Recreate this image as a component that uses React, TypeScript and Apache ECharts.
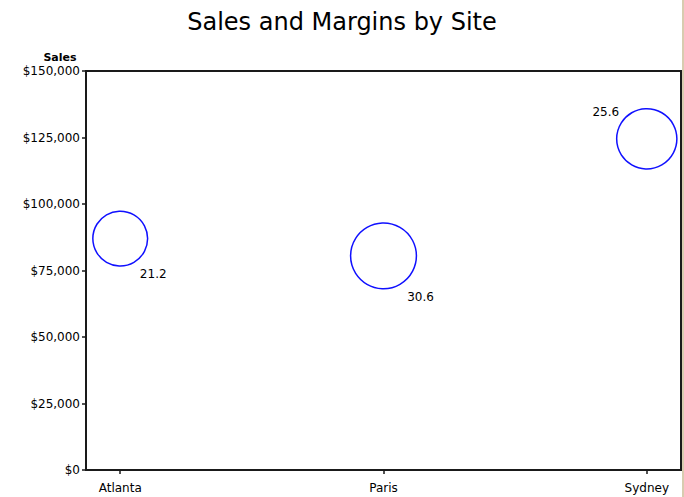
import React, { useEffect, useRef } from "react";
import * as echarts from "echarts";

const sites = ["Atlanta", "Paris", "Sydney"];
const sales = [87000, 80500, 124500];
const margins = [21.2, 30.6, 25.6];
const yTicks = [0, 25000, 50000, 75000, 100000, 125000, 150000];

const labelOffsets: number[][] = [
  [33, 35],
  [37, 41],
  [-41, -27],
];

export default function App() {
  const ref = useRef<HTMLDivElement>(null);
  useEffect(() => {
    if (!ref.current) return;
    const chart = echarts.init(ref.current, null, { renderer: "svg" });
    const font = "DejaVu Sans, Verdana, sans-serif";
    chart.setOption({
      animation: false,
      backgroundColor: "#ffffff",
      title: {
        text: "Sales and Margins by Site",
        left: "center",
        top: 5,
        textStyle: {
          fontFamily: font,
          fontSize: 24,
          fontWeight: "normal",
          color: "#000",
        },
      },
      grid: {
        left: 86,
        right: 3,
        top: 71,
        bottom: 27,
        show: true,
        borderColor: "#1a1a1a",
        borderWidth: 2,
        backgroundColor: "transparent",
      },
      xAxis: {
        type: "value",
        min: -0.13,
        max: 2.13,
        splitLine: { show: false },
        axisLine: {
          show: true,
          onZero: false,
          lineStyle: { color: "#1a1a1a", width: 2 },
        },
        axisTick: {
          show: true,
          customValues: [0, 1, 2],
          length: 4,
          lineStyle: { color: "#1a1a1a", width: 1.5 },
        },
        axisLabel: {
          customValues: [0, 1, 2],
          formatter: (v: number) => sites[Math.round(v)] ?? "",
          fontFamily: font,
          fontSize: 12,
          color: "#000",
          margin: 12,
        },
      },
      yAxis: {
        type: "value",
        min: 0,
        max: 150000,
        interval: 25000,
        name: "Sales",
        nameLocation: "end",
        nameGap: 8,
        nameTextStyle: {
          fontFamily: font,
          fontSize: 11,
          fontWeight: "bold",
          color: "#000",
          align: "center",
          padding: [0, 52, 0, 0],
        },
        splitLine: { show: false },
        axisLine: {
          show: true,
          onZero: false,
          lineStyle: { color: "#1a1a1a", width: 2 },
        },
        axisTick: {
          show: true,
          length: 4,
          lineStyle: { color: "#1a1a1a", width: 1.5 },
        },
        axisLabel: {
          fontFamily: font,
          fontSize: 12,
          color: "#000",
          margin: 6,
          formatter: (v: number) =>
            yTicks.includes(v) ? "$" + v.toLocaleString("en-US") : "",
        },
      },
      graphic: [
        {
          type: "rect",
          shape: { x: 682, y: 0, width: 2, height: 497 },
          style: { fill: "#d8ccb0" },
          silent: true,
        },
      ],
      series: [
        {
          type: "scatter",
          symbol: "circle",
          symbolSize: (val: number[]) => 11.9 * Math.sqrt(val[2]),
          itemStyle: {
            color: "rgba(0,0,0,0)",
            borderColor: "#1010ff",
            borderWidth: 1.5,
            opacity: 1,
          },
          label: {
            show: true,
            position: "inside",
            formatter: (p: any) => p.value[2].toFixed(1),
            fontFamily: font,
            fontSize: 12,
            color: "#000",
          },
          data: sites.map((_, i) => ({
            value: [i, sales[i], margins[i]],
            label: { offset: labelOffsets[i] },
          })),
        },
      ],
    });
    return () => chart.dispose();
  }, []);
  return (
    <div
      ref={ref}
      style={{ position: "fixed", left: 0, top: 0, width: 684, height: 497 }}
    />
  );
}
